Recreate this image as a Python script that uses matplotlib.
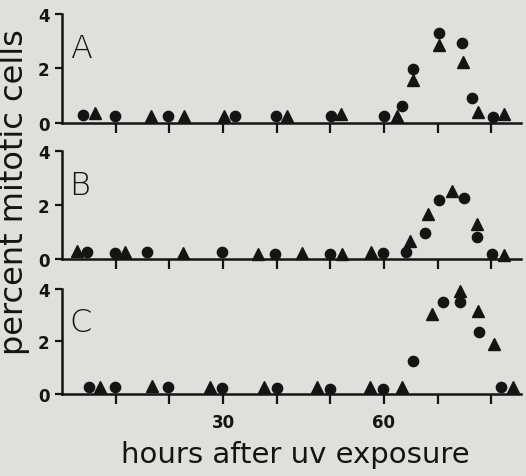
import matplotlib.pyplot as plt
import numpy as np

# panel A
a_circ_x = [3.9, 9.8, 19.7, 32.2, 39.9, 50.1, 60.0, 63.4, 65.5, 70.3, 74.5, 76.5, 80.4]
a_circ_y = [0.29, 0.27, 0.25, 0.27, 0.27, 0.25, 0.27, 0.64, 1.99, 3.28, 2.93, 0.91, 0.21]
a_tri_x = [6.1, 16.5, 22.7, 30.2, 42.0, 52.0, 62.5, 65.5, 70.3, 74.8, 77.6, 82.4]
a_tri_y = [0.35, 0.27, 0.27, 0.25, 0.27, 0.32, 0.27, 1.56, 2.87, 2.23, 0.39, 0.32]

# panel B
b_circ_x = [4.7, 9.8, 15.8, 29.9, 39.7, 49.9, 59.9, 64.1, 67.6, 70.3, 74.9, 77.3, 80.2]
b_circ_y = [0.25, 0.22, 0.27, 0.25, 0.18, 0.18, 0.22, 0.25, 0.95, 2.20, 2.28, 0.80, 0.18]
b_tri_x = [2.7, 11.8, 22.6, 36.6, 44.7, 52.1, 57.5, 64.8, 68.3, 72.6, 77.3, 82.4]
b_tri_y = [0.31, 0.25, 0.22, 0.18, 0.22, 0.18, 0.25, 0.68, 1.66, 2.52, 1.29, 0.15]

# panel C
c_circ_x = [5.1, 9.8, 19.7, 29.9, 40.0, 49.9, 59.9, 65.5, 71.1, 74.2, 77.8, 81.9]
c_circ_y = [0.28, 0.25, 0.25, 0.22, 0.22, 0.19, 0.17, 1.27, 3.49, 3.49, 2.37, 0.25]
c_tri_x = [7.0, 16.7, 27.6, 37.7, 47.5, 57.4, 63.3, 68.9, 74.2, 77.6, 80.5, 84.0]
c_tri_y = [0.28, 0.32, 0.28, 0.28, 0.25, 0.25, 0.28, 3.05, 3.94, 3.17, 1.90, 0.28]

panels = [
    ("A", a_circ_x, a_circ_y, a_tri_x, a_tri_y),
    ("B", b_circ_x, b_circ_y, b_tri_x, b_tri_y),
    ("C", c_circ_x, c_circ_y, c_tri_x, c_tri_y),
]

xticks = [10, 20, 30, 40, 50, 60, 70, 80]
xlabels = ["", "", "30", "", "", "60", "", ""]
yticks = [0, 2, 4]

bg = "#dfdfdb"
ink = "#141414"

fig = plt.figure(figsize=(5.26, 4.77), dpi=100, facecolor=bg)

# axes boxes (left, bottom, width, height) in figure fraction
boxes = [
    (0.118, 0.740, 0.872, 0.229),
    (0.118, 0.455, 0.872, 0.226),
    (0.118, 0.172, 0.872, 0.220),
]

for (label, cx, cy, tx, ty), box in zip(panels, boxes):
    ax = fig.add_axes(box)
    ax.set_facecolor("none")
    ax.plot(cx, cy, "o", color=ink, markersize=7.4, clip_on=False)
    ax.plot(tx, ty, "^", color=ink, markersize=8, clip_on=False)
    ax.set_xlim(0, 85.5)
    ax.set_ylim(0, 4)
    for s in ["top", "right"]:
        ax.spines[s].set_visible(False)
    for s in ["left", "bottom"]:
        ax.spines[s].set_linewidth(1.8)
        ax.spines[s].set_color(ink)
    ax.set_yticks(yticks)
    ax.set_yticklabels([str(v) for v in yticks], fontsize=12, fontweight="bold",
                       color=ink)
    ax.set_xticks(xticks)
    if label == "C":
        ax.set_xticklabels(xlabels, fontsize=12, fontweight="bold", color=ink)
    else:
        ax.set_xticklabels([])
    ax.tick_params(axis="x", direction="out", length=7, width=1.6, color=ink, pad=7)
    ax.tick_params(axis="y", direction="out", length=5, width=1.6, color=ink, pad=4)
    ax.text(1.4, 2.75, label, fontsize=23, color=ink, va="center", ha="left",
            fontweight="light")

fig.text(0.027, 0.597, "percent mitotic cells", rotation=90, fontsize=23,
         color=ink, ha="center", va="center")
fig.text(0.561, 0.046, "hours after uv exposure", fontsize=21, color=ink,
         ha="center", va="center")

fig.savefig("out.png", dpi=100, facecolor=bg)
